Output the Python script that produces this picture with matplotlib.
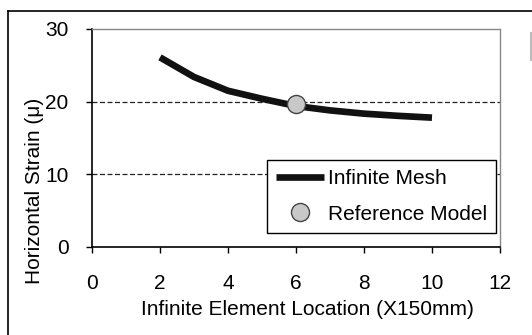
import matplotlib
matplotlib.use("Agg")
import matplotlib.pyplot as plt
from matplotlib.lines import Line2D

plt.rcParams['font.family'] = ['Liberation Sans', 'DejaVu Sans']

# infinite mesh curve (location in units of 150 mm, strain in micro)
mesh_x = [2, 3, 4, 5, 6, 7, 8, 9, 10]
mesh_y = [26.1, 23.4, 21.5, 20.4, 19.4, 18.8, 18.35, 18.05, 17.8]
# reference model point
ref_x = [6]
ref_y = [19.7]

x_ticks = [0, 2, 4, 6, 8, 10, 12]
y_ticks = [0, 10, 20, 30]

W, H = 532, 335
fs = 15
fig = plt.figure(figsize=(W / 100, H / 100), dpi=100)
ax = fig.add_axes([92 / W, 1 - 247 / H, 408 / W, 218 / H])

# gridlines
for yv in y_ticks[1:-1]:
    ax.axhline(yv, color='#222222', lw=0.9, ls=(0, (4, 2)), zorder=1)

ax.plot(mesh_x, mesh_y, color='#111111', lw=4.8, solid_capstyle='butt',
        solid_joinstyle='round', label='Infinite Mesh', zorder=3)
ax.plot(ref_x, ref_y, 'o', ms=13, mfc='#c8c8c8', mec='#444444', mew=1.0,
        ls='none', label='Reference Model', zorder=4)

ax.set_xlim(0, 12)
ax.set_ylim(0, 30)
ax.set_xticks(x_ticks)
ax.set_yticks(y_ticks)
ax.tick_params(labelsize=fs, length=4, width=1, direction='out')
ax.tick_params(axis='x', pad=15.5)
ax.tick_params(axis='y', pad=13)

for s in ['left', 'bottom']:
    ax.spines[s].set_color('black')
    ax.spines[s].set_linewidth(1.2)
for s in ['top', 'right']:
    ax.spines[s].set_color('#888888')
    ax.spines[s].set_linewidth(1.0)
    ax.spines[s].set_linestyle((0, (1, 1)))

ax.set_xlabel('Infinite Element Location (X150mm)', fontsize=fs, labelpad=7.5)
ax.xaxis.set_label_coords(0.527, -0.245)
ax.set_ylabel('Horizontal Strain (\u03bc)', fontsize=fs)
ax.yaxis.set_label_coords(-0.118, 0.257)

leg = ax.legend(loc='lower left', bbox_to_anchor=(0.429, 0.064, 0.561, 0.344),
                mode='expand', fontsize=fs, frameon=True, fancybox=False,
                edgecolor='black', framealpha=1, handlelength=2.3,
                handletextpad=0.2, borderpad=0.45, labelspacing=0.8,
                borderaxespad=0)
leg.get_frame().set_linewidth(1.0)

# outer frame of the scanned figure
fig.add_artist(Line2D([8 / W, 8 / W], [0, 1 - 11 / H], color='black', lw=1.2,
                      transform=fig.transFigure))
fig.add_artist(Line2D([8 / W, 1], [1 - 11 / H, 1 - 11 / H], color='black', lw=1.2,
                      transform=fig.transFigure))
fig.add_artist(Line2D([531 / W, 531 / W], [1 - 60 / H, 1 - 33 / H], color='#bbbbbb',
                      lw=1.5, transform=fig.transFigure))

fig.savefig('out.png', dpi=100)
